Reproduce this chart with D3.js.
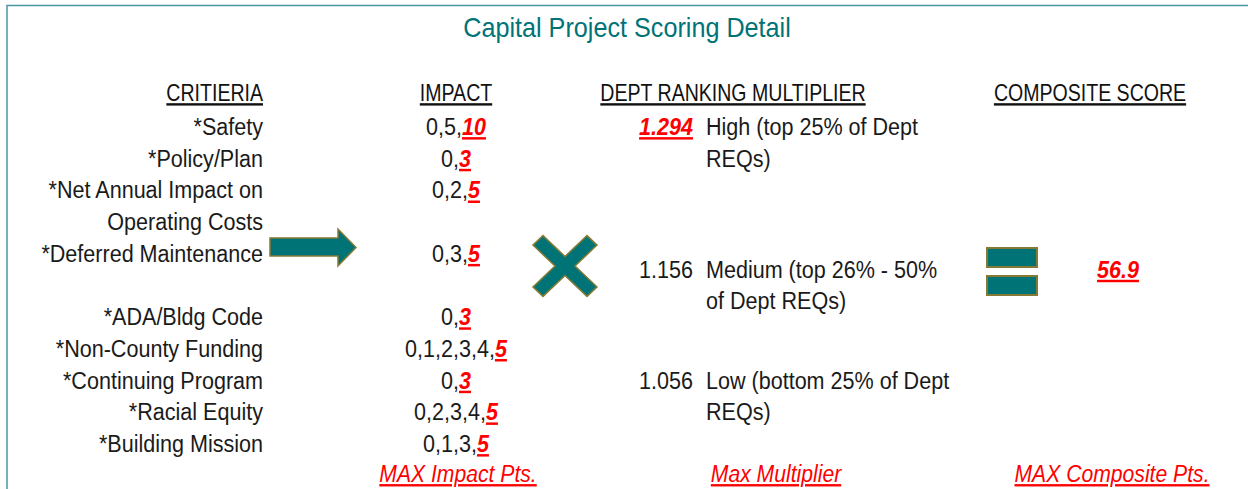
<!DOCTYPE html>
<html>
<head>
<meta charset="utf-8">
<script src="https://cdn.jsdelivr.net/npm/d3@7"></script>
<style>
  body { margin: 0; background: #fff; }
  svg text { font-family: "Liberation Sans", Arial, sans-serif; }
  .hdr { font-size: 24px; text-decoration: underline; fill: #111; }
  .row { font-size: 24.5px; fill: #1a1a1a; }
  .hi { fill: #ff0000; font-weight: bold; font-style: italic; text-decoration: underline; }
  .foot { fill: #ff0000; font-style: italic; font-size: 23.5px; text-decoration: underline; }
</style>
</head>
<body>
<svg width="1248" height="489"></svg>
<script>
const title = 'Capital Project Scoring Detail';
const headers = ['CRITIERIA', 'IMPACT', 'DEPT RANKING MULTIPLIER', 'COMPOSITE SCORE'];

// criteria rows (blank slots keep the spacing of the original sheet)
const criteria = ['*Safety', '*Policy/Plan', '*Net Annual Impact on', 'Operating Costs',
  '*Deferred Maintenance', '', '*ADA/Bldg Code', '*Non-County Funding',
  '*Continuing Program', '*Racial Equity', '*Building Mission'];
const impactLow = ['0,5,', '0,', '0,2,', '', '0,3,', '', '0,', '0,1,2,3,4,', '0,', '0,2,3,4,', '0,1,3,'];
const impactMax = ['10', '3', '5', '', '5', '', '3', '5', '3', '5', '5'];

const multipliers = ['1.294', '1.156', '1.056'];
const multRow = [0, 4.5, 8];
const multText = [['High (top 25% of Dept', 'REQs)'], ['Medium (top 26% - 50%', 'of Dept REQs)'], ['Low (bottom 25% of Dept', 'REQs)']];
const compositeScore = '56.9';
const footers = ['MAX Impact Pts.', 'Max Multiplier', 'MAX Composite Pts.'];

const teal = '#007377';
const olive = '#857a35';

// condensed look: squeeze text horizontally around its anchor
const sxRow = 0.88, sxHdr = 0.815, sxFoot = 0.9, sxTitle = 0.9;
const place = (x, y, sx) => `translate(${x},${y}) scale(${sx},1)`;

const svg = d3.select('svg');

// border
svg.append('path')
  .attr('d', 'M7,489 V5.5 H1248')
  .attr('fill', 'none')
  .attr('stroke', '#4a98a4')
  .attr('stroke-width', 1.5);

svg.append('text')
  .attr('transform', place(627, 37, sxTitle))
  .attr('text-anchor', 'middle')
  .style('font-size', '28px')
  .attr('fill', teal)
  .text(title);

const colX = [263, 456, 733, 1090];
svg.selectAll('.hdr').data(headers).enter().append('text')
  .attr('class', 'hdr')
  .attr('transform', (d, i) => place(colX[i], 101, sxHdr))
  .attr('text-anchor', (d, i) => i === 0 ? 'end' : 'middle')
  .text(d => d);

const y = d3.scalePoint()
  .domain(d3.range(criteria.length))
  .range([126, 443]);
const baseline = 9;

svg.selectAll('.crit').data(criteria).enter().append('text')
  .attr('class', 'row')
  .attr('transform', (d, i) => place(colX[0], y(i) + baseline, sxRow))
  .attr('text-anchor', 'end')
  .text(d => d);

const impRows = d3.range(criteria.length).filter(i => impactLow[i] !== '');
const imp = svg.selectAll('.imp').data(impRows).enter().append('text')
  .attr('class', 'row')
  .attr('transform', i => place(colX[1], y(i) + baseline, sxRow))
  .attr('text-anchor', 'middle');
imp.append('tspan').text(i => impactLow[i]);
imp.append('tspan').attr('class', 'hi').text(i => impactMax[i]);

// multiplier block
const multY = r => y(0) + r * (y(1) - y(0));
multipliers.forEach((m, i) => {
  svg.append('text')
    .attr('class', 'row' + (i === 0 ? ' hi' : ''))
    .attr('transform', place(693, multY(multRow[i]) + baseline, sxRow))
    .attr('text-anchor', 'end')
    .text(m);
  multText[i].forEach((line, j) => {
    svg.append('text')
      .attr('class', 'row')
      .attr('transform', place(706, multY(multRow[i] + j) + baseline, sxRow))
      .text(line);
  });
});

svg.append('text')
  .attr('class', 'row hi')
  .attr('transform', place(1118, multY(4.5) + baseline, sxRow))
  .attr('text-anchor', 'middle')
  .text(compositeScore);

const footX = [458, 776, 1112];
svg.selectAll('.foot').data(footers).enter().append('text')
  .attr('class', 'foot')
  .attr('transform', (d, i) => place(footX[i], 482, sxFoot))
  .attr('text-anchor', 'middle')
  .text(d => d);

// arrow
svg.append('path')
  .attr('d', 'M270,238 H338 V229 L356,247.5 L338,266 V256 H270 Z')
  .attr('fill', teal)
  .attr('stroke', olive)
  .attr('stroke-width', 1.5);

// multiply sign
const cx = 565, cy = 266, a = 32, w = 10;
const xPts = [
  [-a + w, -a], [0, -w], [a - w, -a], [a, -a + w], [w, 0], [a, a - w],
  [a - w, a], [0, w], [-a + w, a], [-a, a - w], [-w, 0], [-a, -a + w]
];
svg.append('path')
  .attr('d', d3.line()(xPts.map(p => [cx + p[0], cy + p[1] * 0.95])) + 'Z')
  .attr('fill', teal)
  .attr('stroke', olive)
  .attr('stroke-width', 1.5);

// equals sign
svg.selectAll('.eq').data([248, 276]).enter().append('rect')
  .attr('x', 987).attr('y', d => d)
  .attr('width', 50).attr('height', 19)
  .attr('fill', teal)
  .attr('stroke', olive)
  .attr('stroke-width', 2);
</script>
</body>
</html>
